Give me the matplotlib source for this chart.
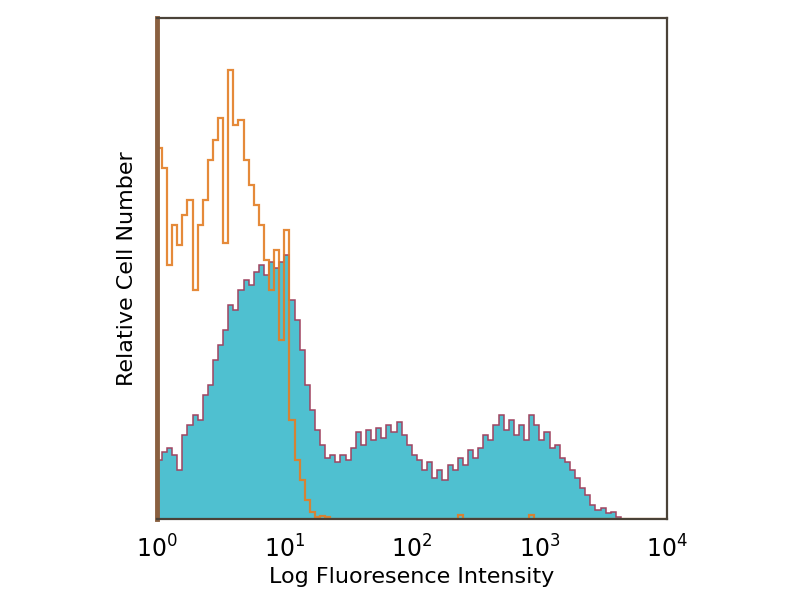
import numpy as np
import matplotlib.pyplot as plt

# channel bins: 100 bins of 0.04 decade from 10^0 to 10^4
bin_step = 0.04
n_bins = 100

# stained sample (teal, filled), counts per bin
stained = [11.8, 13.4, 14.2, 12.8, 9.8, 16.8, 18.8, 20.8, 19.8, 24.8,
           26.7, 31.7, 34.7, 37.7, 42.7, 41.7, 45.7, 47.7, 46.7, 49.3,
           50.7, 48.7, 51.3, 50.1, 51.3, 52.7, 43.7, 39.7, 33.7, 26.7,
           21.8, 17.8, 14.8, 12.2, 12.8, 11.4, 12.8, 11.8, 14.2, 17.4,
           14.8, 17.8, 15.8, 18.2, 16.2, 18.8, 17.4, 19.4, 16.8, 14.8,
           12.8, 11.8, 9.8, 11.4, 8.2, 9.8, 7.8, 10.8, 9.8, 12.2,
           10.8, 13.8, 12.2, 14.2, 16.8, 15.8, 18.8, 20.8, 17.8, 19.8,
           16.8, 18.8, 15.8, 20.8, 18.8, 15.8, 17.4, 14.2, 14.8, 12.2,
           11.4, 9.8, 8.2, 6.2, 4.8, 2.8, 1.8, 2.2, 1.2, 1.4,
           0.4, 0, 0, 0, 0, 0, 0, 0, 0, 0]

# isotype control (orange line)
control = [74.0, 70.0, 50.7, 58.7, 54.7, 60.7, 63.7, 45.7, 58.7, 63.7,
           71.7, 75.6, 80.0, 55.0, 89.6, 78.6, 79.6, 71.7, 66.7, 62.7,
           58.7, 51.7, 45.7, 53.7, 35.7, 57.7, 19.8, 11.8, 7.8, 3.8,
           1.4, 0.4, 0.6, 0.4, 0, 0, 0, 0, 0, 0,
           0, 0, 0, 0, 0, 0, 0, 0, 0, 0,
           0, 0, 0, 0, 0, 0, 0, 0, 0, 0.8,
           0, 0, 0, 0, 0, 0, 0, 0, 0, 0,
           0, 0, 0, 0.8, 0, 0, 0, 0, 0, 0,
           0, 0, 0, 0, 0, 0, 0, 0, 0, 0,
           0, 0, 0, 0, 0, 0, 0, 0, 0, 0]

tick_pos = [1, 10, 100, 1000, 10000]
tick_lab = ['$10^0$', '$10^1$', '$10^2$', '$10^3$', '$10^4$']

edges = 10 ** (np.arange(n_bins + 1) * bin_step)

fig = plt.figure(figsize=(8, 6), dpi=100)
ax = fig.add_axes([0.196, 0.135, 0.6375, 0.835])

ax.stairs(stained, edges, fill=True, color='#4fc0d0', zorder=1)
ax.stairs(stained, edges, color='#a04460', lw=1.1, zorder=2)
ax.stairs(control, edges, color='#e37d24', lw=1.6, alpha=0.9, zorder=2.4)

ax.set_xscale('log')
ax.set_xlim(1, 10000)
ax.set_ylim(0, 100)
ax.set_xticks(tick_pos)
ax.set_xticklabels(tick_lab, fontsize=17)
ax.minorticks_off()
ax.set_yticks([])
ax.tick_params(axis='x', length=0, pad=12)
for s in ax.spines.values():
    s.set_color('#4a4238')
    s.set_linewidth(1.6)
ax.spines['left'].set_color('#8a6040')
ax.spines['left'].set_linewidth(3.5)

ax.set_xlabel('Log Fluoresence Intensity', fontsize=16, labelpad=3)
ax.set_ylabel('Relative Cell Number', fontsize=16, labelpad=14)

fig.savefig('out.png')
